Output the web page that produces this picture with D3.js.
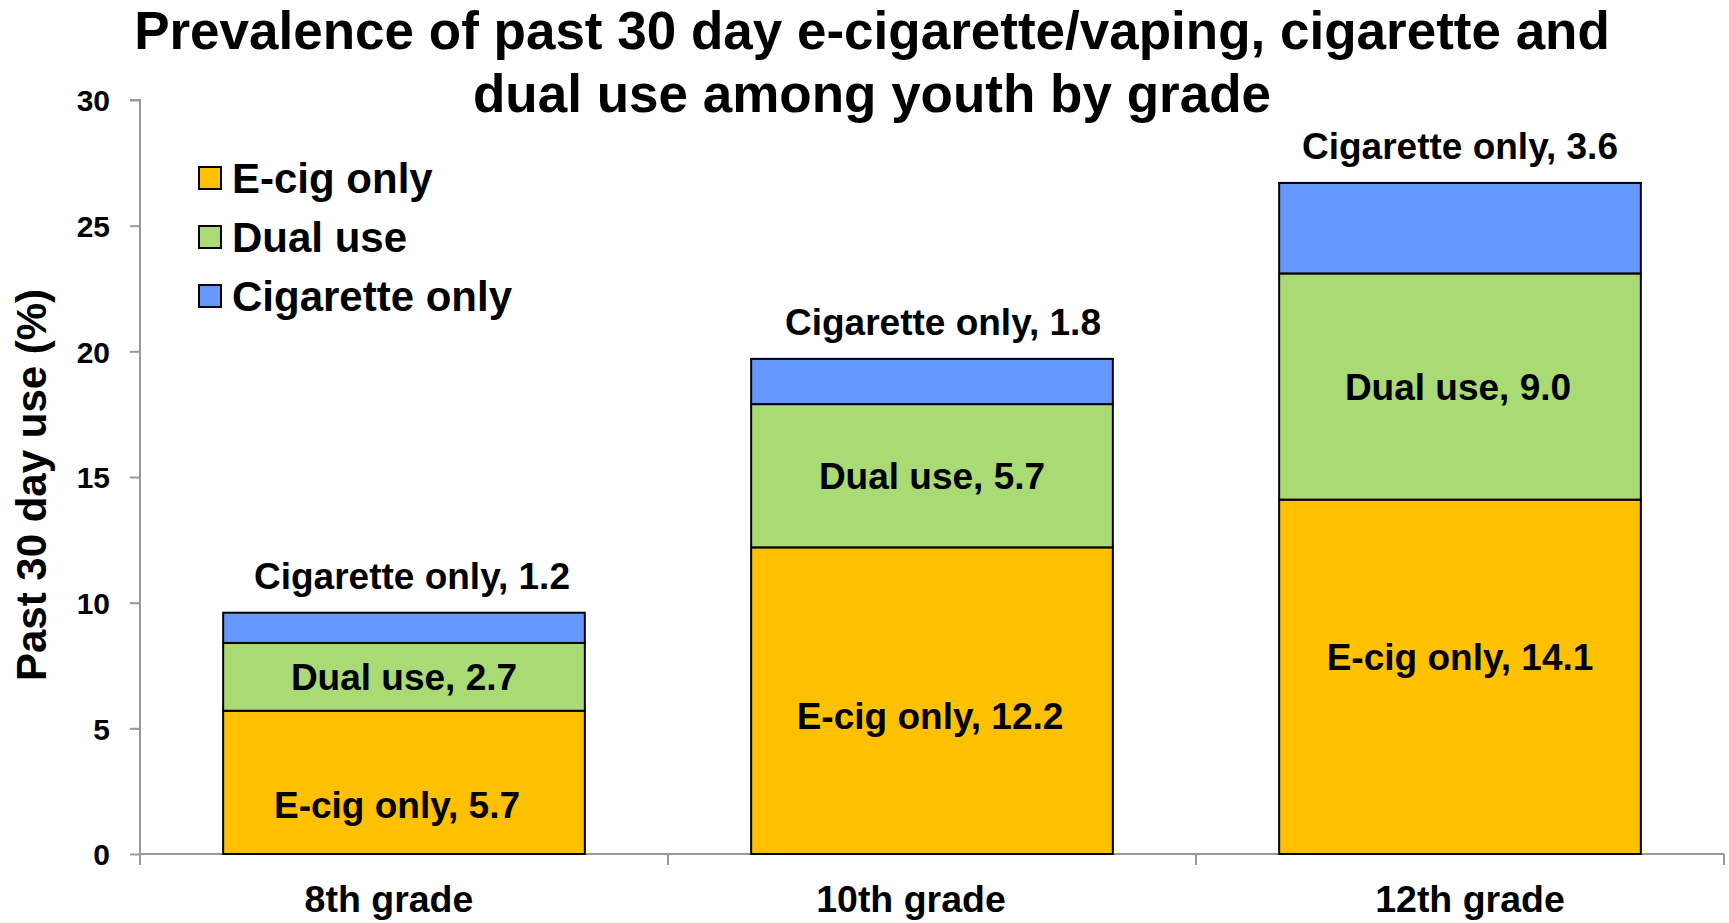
<!DOCTYPE html>
<html>
<head>
<meta charset="utf-8">
<script src="https://cdn.jsdelivr.net/npm/d3@7"></script>
<style>
  body { margin: 0; background: #fff; }
  text { font-family: "Liberation Sans", Arial, sans-serif; font-weight: bold; }
</style>
</head>
<body>
<script>
// data
let grades = ['8th grade', '10th grade', '12th grade'];
let seriesNames = ['E-cig only', 'Dual use', 'Cigarette only'];
let ecigOnly = [5.7, 12.2, 14.1];
let dualUse = [2.7, 5.7, 9.0];
let cigOnly = [1.2, 1.8, 3.6];
let yTicks = [0, 5, 10, 15, 20, 25, 30];
let colors = ['#FFC000', '#A9DA74', '#6699FF'];

let svgWidth = 1729;
let svgHeight = 923;

let margins = { top: 100, right: 5, bottom: 69, left: 140 };
let chartWidth = svgWidth - margins.left - margins.right;
let chartHeight = svgHeight - margins.top - margins.bottom;

let rows = grades.map((g, i) => ({
  grade: g,
  'E-cig only': ecigOnly[i],
  'Dual use': dualUse[i],
  'Cigarette only': cigOnly[i]
}));

let stacked = d3.stack().keys(seriesNames)(rows);

let svg = d3.select('body')
  .append('svg')
  .attr('width', svgWidth)
  .attr('height', svgHeight);

let chart = svg.append('g')
  .attr('transform', `translate(${margins.left}, ${margins.top})`);

let x = d3.scaleBand()
  .domain(grades)
  .range([0, chartWidth])
  .paddingInner(0.315)
  .paddingOuter(0.1575);

let xOuter = d3.scaleBand().domain(grades).range([0, chartWidth]);

let y = d3.scaleLinear()
  .domain([0, 30])
  .range([chartHeight, 0]);

// y axis
let yAxis = chart.append('g')
  .call(d3.axisLeft(y).tickValues(yTicks).tickSize(10).tickPadding(20));
yAxis.selectAll('line, path').attr('stroke', '#999').attr('stroke-width', 2);
yAxis.select('path').attr('d', `M0,${chartHeight}V0H-10`);
yAxis.selectAll('text')
  .attr('fill', '#000')
  .style('font-size', '30px')
  .attr('dy', '0.36em');

// x axis line with boundary ticks
let catNudge = [-15, -21, 10];
let xAxis = chart.append('g')
  .attr('transform', `translate(0, ${chartHeight})`);
xAxis.append('line')
  .attr('x1', 0).attr('x2', chartWidth)
  .attr('stroke', '#999').attr('stroke-width', 2);
xAxis.selectAll('.bound')
  .data(d3.range(grades.length + 1))
  .enter().append('line')
  .attr('x1', i => i * xOuter.bandwidth())
  .attr('x2', i => i * xOuter.bandwidth())
  .attr('y1', 0).attr('y2', 11)
  .attr('stroke', '#999').attr('stroke-width', 2);
xAxis.selectAll('.cat')
  .data(grades)
  .enter().append('text')
  .attr('x', (d, i) => xOuter(d) + xOuter.bandwidth() / 2 + catNudge[i])
  .attr('y', 58)
  .attr('text-anchor', 'middle')
  .style('font-size', '37.5px')
  .text(d => d);

// bars
let layers = chart.selectAll('.layer')
  .data(stacked)
  .enter().append('g')
  .attr('fill', (d, i) => colors[i]);

layers.selectAll('rect')
  .data(d => d)
  .enter().append('rect')
  .attr('x', d => x(d.data.grade))
  .attr('width', x.bandwidth())
  .attr('y', d => y(d[1]))
  .attr('height', d => y(d[0]) - y(d[1]))
  .attr('stroke', '#000')
  .attr('stroke-width', 2);

// labels inside / above bars
let ecigNudge = [22, 15, -20];
let labelShiftX = [[-7, -2, 0], [0, 0, -2], [8, 11, 0]];
stacked.forEach((layer, si) => {
  layer.forEach((d, i) => {
    let cx = x(d.data.grade) + x.bandwidth() / 2 + labelShiftX[si][i];
    let label = `${seriesNames[si]}, ${(d[1] - d[0]).toFixed(1)}`;
    let ty;
    if (si === 2) ty = y(d[1]) - 37;
    else ty = y((d[0] + d[1]) / 2) + (si === 0 ? ecigNudge[i] : 0);
    chart.append('text')
      .attr('x', cx)
      .attr('y', ty)
      .attr('dy', '0.36em')
      .attr('text-anchor', 'middle')
      .style('font-size', '37px')
      .text(label);
  });
});

// legend
let legend = svg.append('g').attr('transform', 'translate(199, 178)');
seriesNames.forEach((name, i) => {
  let row = legend.append('g').attr('transform', `translate(0, ${i * 59})`);
  row.append('rect')
    .attr('x', 0).attr('y', -11)
    .attr('width', 22).attr('height', 22)
    .attr('fill', colors[i])
    .attr('stroke', '#000').attr('stroke-width', 2);
  row.append('text')
    .attr('x', 33).attr('y', 0)
    .attr('dy', '0.36em')
    .style('font-size', '42px')
    .text(name);
});

// y axis title
svg.append('text')
  .attr('transform', 'translate(46, 485) rotate(-90)')
  .attr('text-anchor', 'middle')
  .style('font-size', '42px')
  .text('Past 30 day use (%)');

// chart title
let title = svg.append('text')
  .attr('text-anchor', 'middle')
  .style('font-size', '53px');
title.append('tspan').attr('x', 872).attr('y', 49)
  .text('Prevalence of past 30 day e-cigarette/vaping, cigarette and');
title.append('tspan').attr('x', 872).attr('y', 112)
  .text('dual use among youth by grade');
</script>
</body>
</html>
